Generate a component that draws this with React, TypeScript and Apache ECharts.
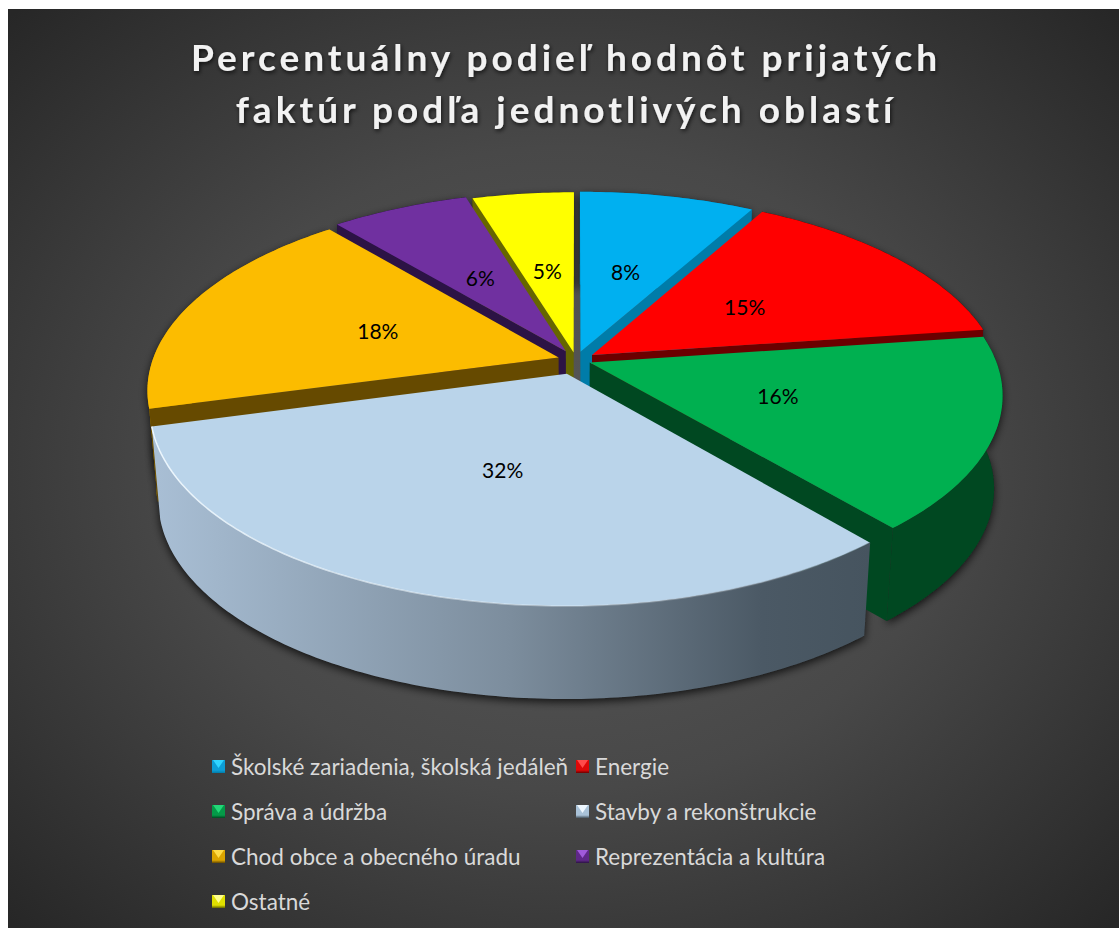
import React, { useEffect, useRef } from "react";
import * as echarts from "echarts";

const categories = [
  "Školské zariadenia, školská jedáleň",
  "Energie",
  "Správa a údržba",
  "Stavby a rekonštrukcie",
  "Chod obce a obecného úradu",
  "Reprezentácia a kultúra",
  "Ostatné",
];
const shares = [8.1, 14.7, 16.0, 32.0, 18.1, 6.4, 4.7];
const titleText = "Percentuálny podieľ hodnôt prijatých\nfaktúr podľa jednotlivých oblastí";

const topColors = ["#00b0f0", "#ff0000", "#00b050", "#bad4ea", "#fcbc00", "#7030a0", "#ffff00"];
const sideColors = ["#007ca9", "#6b0000", "#004821", "#46545f", "#664a00", "#2c1345", "#666600"];
const glintColors = ["#30d4ff", "#ff4a4a", "#22d878", "#eef7ff", "#ffdc48", "#a05ada", "#ffff90"];
const iconColors = ["#0d9ed6", "#dd0808", "#049a48", "#a9c2d8", "#dca500", "#5f2888", "#e0e000"];
const paintRank = [2, 4, 5, 6, 3, 1, 0];
const explode = [0.045, 0.048, 0.036, 0.075, 0.045, 0.053, 0.04];

const OX = 8, OY = 9;
const CX = 576 - OX, CY = 360 - OY;
const RX = 406, RY = 189, PERSP = 0.165, DEPTH = 93, BOTTOM_SCALE = 0.98;

const total = shares.reduce((a, b) => a + b, 0);
const TAU = Math.PI * 2;
const startOf = (i: number) => (shares.slice(0, i).reduce((a, b) => a + b, 0) / total) * TAU;

type P = [number, number];
function project(u: number, v: number, low: boolean): P {
  const s = 1 / (1 + PERSP * v);
  return [CX + RX * u * s * (low ? BOTTOM_SCALE : 1), CY - RY * v * s + (low ? DEPTH : 0)];
}

function sliceShapes(i: number, value: number) {
  const a0 = startOf(i);
  const a1 = a0 + (value / total) * TAU;
  const mid = (a0 + a1) / 2;
  const ex = Math.sin(mid) * explode[i];
  const ey = Math.cos(mid) * explode[i];
  const steps = Math.max(6, Math.ceil((a1 - a0) / 0.015));
  const arc = (low: boolean): P[] => {
    const out: P[] = [];
    for (let k = 0; k <= steps; k++) {
      const a = a0 + ((a1 - a0) * k) / steps;
      out.push(project(Math.sin(a) + ex, Math.cos(a) + ey, low));
    }
    return out;
  };
  const topArc = arc(false);
  const lowArc = arc(true);
  const apexTop = project(ex, ey, false);
  const apexLow = project(ex, ey, true);
  const r = 0.48;
  const label = project(Math.sin(mid) * r + ex, Math.cos(mid) * r + ey, false);
  return { topArc, lowArc, apexTop, apexLow, label };
}

const cross = (a: P, b: P, c: P) => (b[0] - a[0]) * (c[1] - b[1]) - (b[1] - a[1]) * (c[0] - b[0]);

function renderSlice(i: number) {
  return (_params: any, api: any) => {
    const value = api.value(0);
    const { topArc, lowArc, apexTop, apexLow, label } = sliceShapes(i, value);
    const rank = paintRank[i];
    const wall = [...topArc, ...lowArc.slice().reverse()];
    const children: any[] = [];
    const lastTop = topArc[topArc.length - 1];
    const lastLow = lowArc[lowArc.length - 1];

    children.push({
      type: "polygon",
      z2: 0,
      shape: { points: wall },
      style: { fill: "#222", shadowBlur: 9, shadowColor: "rgba(0,0,0,0.75)", shadowOffsetX: 0, shadowOffsetY: 3 },
    });

    let wallFill: any = sideColors[i];
    if (i === 3) {
      wallFill = new echarts.graphic.LinearGradient(0, 0, 1, 0, [
        { offset: 0, color: "#a9bfd5" },
        { offset: 0.5, color: "#7c8d9d" },
        { offset: 0.85, color: "#4b5965" },
        { offset: 1, color: "#46545f" },
      ]);
    }
    if (i === 4) wallFill = "#b58800";
    children.push({ type: "polygon", z2: rank * 10 + 1, shape: { points: wall }, style: { fill: wallFill } });

    if (cross(apexTop, topArc[0], lowArc[0]) < 0) {
      children.push({
        type: "polygon",
        z2: rank * 10 + 2,
        shape: { points: [apexTop, topArc[0], lowArc[0], apexLow] },
        style: { fill: sideColors[i] },
      });
    }
    if (cross(apexTop, lastTop, lastLow) > 0) {
      children.push({
        type: "polygon",
        z2: rank * 10 + 2,
        shape: { points: [apexTop, lastTop, lastLow, apexLow] },
        style: { fill: sideColors[i] },
      });
    }
    children.push({
      type: "polygon",
      z2: rank * 10 + 3,
      shape: { points: [apexTop, ...topArc] },
      style: { fill: topColors[i] },
    });
    if (i === 3) {
      children.push({
        type: "polyline",
        z2: rank * 10 + 4,
        shape: { points: topArc },
        style: {
          fill: "none",
          lineWidth: 1.5,
          stroke: new echarts.graphic.LinearGradient(0, 0, 1, 0, [
            { offset: 0, color: "rgba(238,248,255,1)" },
            { offset: 0.6, color: "rgba(238,248,255,0.35)" },
            { offset: 1, color: "rgba(60,70,80,0.5)" },
          ]),
        },
      });
    }
    children.push({
      type: "text",
      z2: 1000,
      x: label[0],
      y: label[1],
      style: {
        text: `${Math.round(value)}%`,
        fill: "#000",
        font: "21px Lato, Carlito, sans-serif",
        align: "center",
        verticalAlign: "middle",
      },
    });
    return { type: "group", children };
  };
}

const LEGEND_TOP = 741;
const LEGEND_COL_X = [199, 563];
const LEGEND_ROW = 45;
const ICON_W = 13, ICON_H = 13;
const legendColumns = [[0, 2, 4, 6], [1, 3, 5]];

function legendItem(i: number) {
  return {
    name: categories[i],
    icon: "rect",
    itemStyle: {
      color: new echarts.graphic.LinearGradient(0, 0, 0, 1, [
        { offset: 0, color: iconColors[i] },
        { offset: 0.78, color: iconColors[i] },
        { offset: 1, color: sideColors[i] },
      ]),
    },
  };
}

const legendBase = {
  orient: "vertical" as const,
  selectedMode: false,
  icon: "rect",
  itemWidth: ICON_W,
  itemHeight: ICON_H,
  itemGap: LEGEND_ROW - 23,
  align: "left" as const,
  textStyle: { color: "#d9d9d9", fontSize: 22.5, lineHeight: 21, fontFamily: "Lato, Carlito, sans-serif", padding: [0, 0, 0, 1] },
};

export default function App() {
  const ref = useRef<HTMLDivElement>(null);
  useEffect(() => {
    const chart = echarts.init(ref.current!, undefined, { renderer: "svg" });
    const glints = legendColumns.flatMap((col, c) =>
      col.map((i, row) => {
        const x = LEGEND_COL_X[c] + 5;
        const y = LEGEND_TOP + 5 + row * LEGEND_ROW + 5;
        return {
          type: "polygon",
          silent: true,
          z: 10,
          shape: { points: [[x + 1, y], [x + ICON_W - 1, y], [x + ICON_W / 2, y + ICON_H * 0.62]] },
          style: { fill: glintColors[i] },
        };
      })
    );
    chart.setOption({
      animation: false,
      backgroundColor: new echarts.graphic.RadialGradient(0.5, 0.5, 0.7, [
        { offset: 0, color: "#595959" },
        { offset: 0.5, color: "#484848" },
        { offset: 1, color: "#272727" },
      ]),
      title: {
        text: titleText,
        left: 553,
        top: 16,
        textAlign: "center",
        textStyle: {
          color: "#f2f2f2",
          fontSize: 37,
          lineHeight: 52,
          fontWeight: "bold",
          fontFamily: "Lato, Carlito, sans-serif",
          textShadowBlur: 4,
          textShadowColor: "rgba(0,0,0,0.7)",
          textShadowOffsetX: 1,
          textShadowOffsetY: 2,
        },
      },
      graphic: glints,
      legend: legendColumns.map((col, c) => ({
        ...legendBase,
        left: LEGEND_COL_X[c],
        top: LEGEND_TOP,
        data: col.map(legendItem),
      })),
      series: categories.map((name, i) => ({
        type: "custom",
        name,
        coordinateSystem: "none",
        silent: true,
        itemStyle: { color: topColors[i] },
        renderItem: renderSlice(i),
        data: [[shares[i]]],
      })),
    });
    ref.current!.querySelectorAll("text").forEach((t) => {
      if (getComputedStyle(t).fontSize === "37px") (t as SVGTextElement).style.letterSpacing = "4px";
    });
    return () => chart.dispose();
  }, []);
  return <div ref={ref} style={{ position: "absolute", left: 8, top: 9, width: 1111, height: 919 }} />;
}
